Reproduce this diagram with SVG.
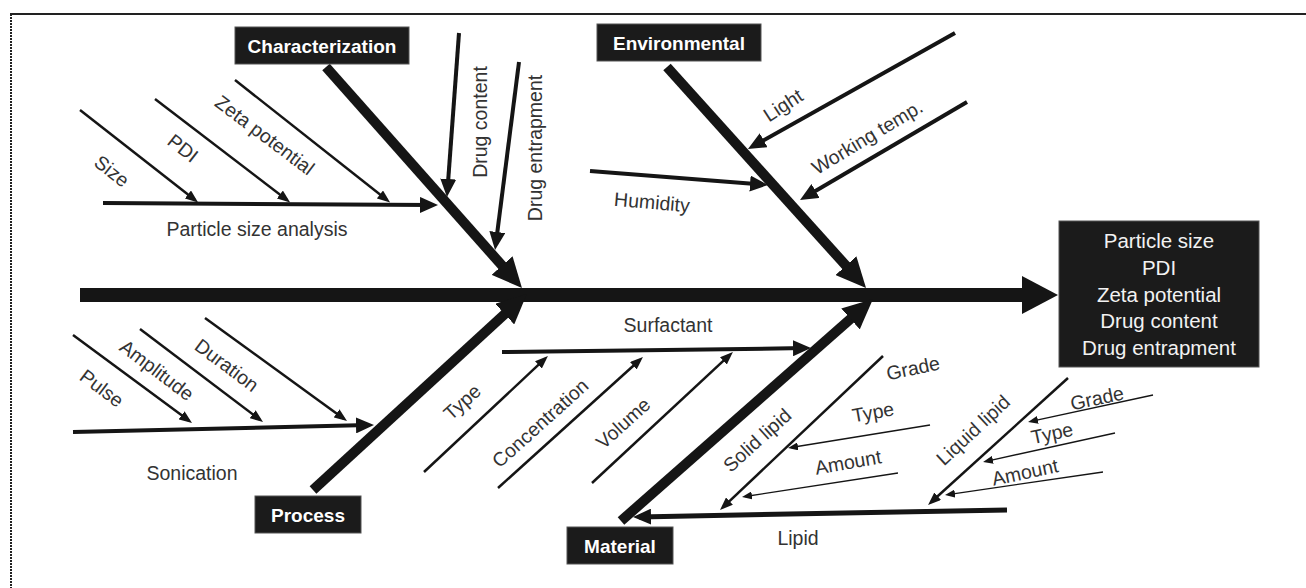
<svg xmlns="http://www.w3.org/2000/svg" width="1306" height="588" viewBox="0 0 1306 588">
<defs>
<style>
.box{fill:#1b1b1b;stroke:#555;stroke-width:1}
.bt{font-family:"Liberation Sans",Arial,sans-serif;font-size:19px;font-weight:bold;fill:#fff;text-anchor:middle;dominant-baseline:central}
.ot{font-family:"Liberation Sans",Arial,sans-serif;font-size:20.5px;fill:#f2f2f2;text-anchor:middle}
.lb{font-family:"Liberation Sans",Arial,sans-serif;font-size:19.5px;fill:#333;text-anchor:middle;dominant-baseline:central}
.c{fill:none;stroke:#151515;stroke-linecap:butt}
.spine{stroke-width:14}
.bone{stroke-width:10}
.med{stroke-width:4}
.sm{stroke-width:2.5}
.xs{stroke-width:1.3}
</style>
<marker id="mSpine" markerUnits="userSpaceOnUse" markerWidth="36" markerHeight="40" refX="16" refY="19" orient="auto"><path d="M0,0 L36,19 L0,38 z" fill="#151515"/></marker>
<marker id="mBig" markerUnits="userSpaceOnUse" markerWidth="30" markerHeight="28" refX="18" refY="14" orient="auto"><path d="M0,0 L30,14 L0,28 z" fill="#151515"/></marker>
<marker id="mMed" markerUnits="userSpaceOnUse" markerWidth="18" markerHeight="16" refX="12" refY="8" orient="auto"><path d="M0,0 L18,8 L0,16 z" fill="#151515"/></marker>
<marker id="mSm" markerUnits="userSpaceOnUse" markerWidth="13" markerHeight="10" refX="9" refY="5" orient="auto"><path d="M0,0 L13,5 L0,10 z" fill="#151515"/></marker>
<marker id="mXs" markerUnits="userSpaceOnUse" markerWidth="10" markerHeight="8" refX="7" refY="4" orient="auto"><path d="M0,0 L10,4 L0,8 z" fill="#151515"/></marker>
</defs>
<rect width="1306" height="588" fill="#fff"/>
<g id="frame">
<line x1="10" y1="14" x2="1306" y2="14" stroke="#222" stroke-width="2"/>
<line x1="11" y1="14" x2="11" y2="588" stroke="#222" stroke-width="2" stroke-dasharray="2 1"/>
</g>
<g id="connectors">
<line class="c spine" x1="80" y1="295" x2="1038" y2="295" marker-end="url(#mSpine)"/>
<line class="c bone" x1="326" y1="67" x2="514" y2="279" marker-end="url(#mBig)"/>
<line class="c bone" x1="667" y1="67" x2="858" y2="279" marker-end="url(#mBig)"/>
<line class="c bone" x1="313" y1="490" x2="518" y2="302" marker-end="url(#mBig)"/>
<line class="c bone" x1="621" y1="521" x2="864" y2="307" marker-end="url(#mBig)"/>
<line class="c med" x1="103" y1="203" x2="432" y2="205" marker-end="url(#mMed)"/>
<line class="c sm" x1="80" y1="110" x2="195" y2="200" marker-end="url(#mSm)"/>
<line class="c sm" x1="155" y1="99" x2="287" y2="200" marker-end="url(#mSm)"/>
<line class="c sm" x1="235" y1="80" x2="387" y2="200" marker-end="url(#mSm)"/>
<line class="c med" x1="459" y1="33" x2="447.4" y2="191" marker-end="url(#mMed)"/>
<line class="c med" x1="519" y1="62" x2="495.8" y2="244" marker-end="url(#mMed)"/>
<line class="c med" x1="590" y1="171" x2="762" y2="184.5" marker-end="url(#mMed)"/>
<line class="c med" x1="955" y1="33" x2="753.2" y2="146.1" marker-end="url(#mMed)"/>
<line class="c med" x1="967" y1="102" x2="805.2" y2="197" marker-end="url(#mMed)"/>
<line class="c med" x1="73" y1="432" x2="368" y2="425.1" marker-end="url(#mMed)"/>
<line class="c sm" x1="73" y1="335" x2="188.8" y2="420.6" marker-end="url(#mSm)"/>
<line class="c sm" x1="140" y1="329" x2="259.8" y2="419.6" marker-end="url(#mSm)"/>
<line class="c sm" x1="205" y1="318" x2="343.8" y2="418.7" marker-end="url(#mSm)"/>
<line class="c med" x1="502" y1="352" x2="805" y2="348.1" marker-end="url(#mMed)"/>
<line class="c sm" x1="424" y1="472" x2="545" y2="358.7" marker-end="url(#mSm)"/>
<line class="c sm" x1="498" y1="488" x2="640" y2="359.7" marker-end="url(#mSm)"/>
<line class="c sm" x1="592" y1="483" x2="730" y2="354.7" marker-end="url(#mSm)"/>
<line class="c med" x1="1007" y1="510" x2="639" y2="516.9" marker-end="url(#mMed)" style="stroke-width:5"/>
<line class="c sm" x1="883" y1="356" x2="722.9" y2="507.3" marker-end="url(#mSm)"/>
<line class="c sm" x1="1068" y1="378" x2="931" y2="502.3" marker-end="url(#mSm)"/>
<line class="c xs" x1="930" y1="425" x2="791" y2="447.5" marker-end="url(#mXs)"/>
<line class="c xs" x1="898" y1="473" x2="745" y2="496.5" marker-end="url(#mXs)"/>
<line class="c xs" x1="1153" y1="395" x2="1031" y2="421.4" marker-end="url(#mXs)"/>
<line class="c xs" x1="1115" y1="433" x2="986" y2="461.3" marker-end="url(#mXs)"/>
<line class="c xs" x1="1103" y1="472" x2="948" y2="494.6" marker-end="url(#mXs)"/>
</g>
<g id="node-characterization"><rect class="box" x="235" y="27" width="174" height="37"/><text class="bt" x="322" y="46">Characterization</text></g>
<g id="node-environmental"><rect class="box" x="597" y="24" width="164" height="37"/><text class="bt" x="679" y="43">Environmental</text></g>
<g id="node-process"><rect class="box" x="255" y="496" width="106" height="37"/><text class="bt" x="308" y="515">Process</text></g>
<g id="node-material"><rect class="box" x="567" y="527" width="106" height="37"/><text class="bt" x="620" y="546">Material</text></g>
<g id="node-output"><rect class="box" x="1059" y="221" width="200" height="146"/>
<text class="ot" x="1159" y="248">Particle size</text>
<text class="ot" x="1159" y="275">PDI</text>
<text class="ot" x="1159" y="302">Zeta potential</text>
<text class="ot" x="1159" y="328">Drug content</text>
<text class="ot" x="1159" y="355">Drug entrapment</text>
</g>
<g id="labels">
<g id="lbl-size"><text class="lb" transform="translate(112,171) rotate(38)">Size</text></g>
<g id="lbl-pdi"><text class="lb" transform="translate(183,148) rotate(38)">PDI</text></g>
<g id="lbl-zeta"><text class="lb" transform="translate(265,135) rotate(37)">Zeta potential</text></g>
<g id="lbl-psa"><text class="lb" x="257" y="229">Particle size analysis</text></g>
<g id="lbl-drugcontent"><text class="lb" transform="translate(480,122) rotate(-90)">Drug content</text></g>
<g id="lbl-drugentrap"><text class="lb" transform="translate(535,148) rotate(-90)">Drug entrapment</text></g>
<g id="lbl-humidity"><text class="lb" transform="translate(652,202) rotate(5)">Humidity</text></g>
<g id="lbl-light"><text class="lb" transform="translate(783,105) rotate(-33)">Light</text></g>
<g id="lbl-worktemp"><text class="lb" transform="translate(867,137) rotate(-31)">Working temp.</text></g>
<g id="lbl-pulse"><text class="lb" transform="translate(102,388) rotate(37)">Pulse</text></g>
<g id="lbl-amplitude"><text class="lb" transform="translate(157,370) rotate(37)">Amplitude</text></g>
<g id="lbl-duration"><text class="lb" transform="translate(227,365) rotate(37)">Duration</text></g>
<g id="lbl-sonication"><text class="lb" x="192" y="473">Sonication</text></g>
<g id="lbl-surfactant"><text class="lb" x="668" y="325">Surfactant</text></g>
<g id="lbl-type1"><text class="lb" transform="translate(462,402) rotate(-42)">Type</text></g>
<g id="lbl-conc"><text class="lb" transform="translate(540,423) rotate(-42)">Concentration</text></g>
<g id="lbl-volume"><text class="lb" transform="translate(623,423) rotate(-42)">Volume</text></g>
<g id="lbl-solid"><text class="lb" transform="translate(757,440) rotate(-42)">Solid lipid</text></g>
<g id="lbl-grade1"><text class="lb" transform="translate(913,368) rotate(-12)">Grade</text></g>
<g id="lbl-type2"><text class="lb" transform="translate(873,412) rotate(-10)">Type</text></g>
<g id="lbl-amount1"><text class="lb" transform="translate(848,462) rotate(-10)">Amount</text></g>
<g id="lbl-liquid"><text class="lb" transform="translate(973,430) rotate(-43)">Liquid lipid</text></g>
<g id="lbl-grade2"><text class="lb" transform="translate(1097,398) rotate(-12)">Grade</text></g>
<g id="lbl-type3"><text class="lb" transform="translate(1052,433) rotate(-12)">Type</text></g>
<g id="lbl-amount2"><text class="lb" transform="translate(1025,472) rotate(-12)">Amount</text></g>
<g id="lbl-lipid"><text class="lb" x="798" y="538">Lipid</text></g>
</g>
</svg>
